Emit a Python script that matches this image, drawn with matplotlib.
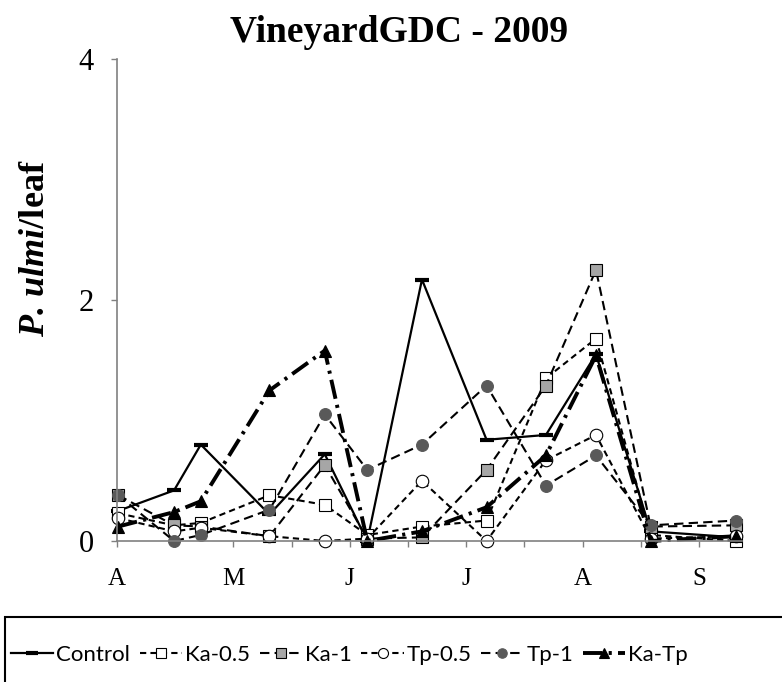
import matplotlib
matplotlib.use('Agg')
import matplotlib.pyplot as plt
from matplotlib.patches import Rectangle

# ---- data (x in half-month units from start of April) ----
sample_pos = [0.02, 0.98, 1.44, 2.62, 3.57, 4.30, 5.24, 6.35, 7.37, 8.23, 9.17, 10.64]
month_ticks = [0, 1, 2, 3, 4, 5, 6, 7, 8, 9, 10]
month_labels = ['A', '', 'M', '', 'J', '', 'J', '', 'A', '', 'S']
y_ticks = [0, 2, 4]

control = [0.25, 0.42, 0.80, 0.22, 0.72, 0.00, 2.17, 0.84, 0.88, 1.55, 0.08, 0.03]
ka_05   = [0.23, 0.13, 0.15, 0.38, 0.30, 0.05, 0.12, 0.17, 1.35, 1.68, 0.05, 0.00]
ka_1    = [0.38, 0.13, 0.12, 0.04, 0.63, 0.02, 0.03, 0.59, 1.29, 2.25, 0.12, 0.13]
tp_05   = [0.19, 0.08, 0.11, 0.04, 0.00, 0.02, 0.50, 0.00, 0.67, 0.88, 0.02, 0.04]
tp_1    = [0.38, 0.00, 0.05, 0.26, 1.05, 0.59, 0.80, 1.29, 0.46, 0.71, 0.13, 0.17]
ka_tp   = [0.12, 0.24, 0.33, 1.25, 1.58, 0.00, 0.08, 0.28, 0.71, 1.54, 0.00, 0.04]

series_names = ['Control', 'Ka-0.5', 'Ka-1', 'Tp-0.5', 'Tp-1', 'Ka-Tp']

W, H = 782, 682
plt.rcParams['mathtext.fontset'] = 'custom'
plt.rcParams['mathtext.bfit'] = 'Liberation Serif:bold:italic'
plt.rcParams['mathtext.rm'] = 'Liberation Serif'
plt.rcParams['mathtext.it'] = 'Liberation Serif:italic'
plt.rcParams['mathtext.bf'] = 'Liberation Serif:bold'

fig = plt.figure(figsize=(W / 100, H / 100), dpi=100)
ax = fig.add_axes([117 / W, 1 - 541 / H, (742 - 117) / W, (541 - 59) / H])

serif = 'Liberation Serif'

styles = [
    dict(data=control, color='black', lw=1.6, ls='-', marker='_', ms=10, mew=3,
         mfc='black', mec='black'),
    dict(data=ka_05, color='black', lw=1.5, ls=(0, (3, 2)), marker='s', ms=9, mew=0.8,
         mfc='white', mec='black'),
    dict(data=ka_1, color='black', lw=1.5, ls=(0, (4.5, 2.5)), marker='s', ms=9, mew=0.8,
         mfc='#a6a6a6', mec='black'),
    dict(data=tp_05, color='black', lw=1.5, ls=(0, (3, 2)), marker='o', ms=9, mew=0.8,
         mfc='white', mec='black'),
    dict(data=tp_1, color='black', lw=1.5, ls=(0, (4.5, 2.5)), marker='o', ms=8.5, mew=0.8,
         mfc='#595959', mec='#595959'),
    dict(data=ka_tp, color='black', lw=2.8, ls=(0, (5, 1.6, 0.8, 1.6)), marker='^', ms=9,
         mew=0.8, mfc='black', mec='black'),
]

handles = []
for name, st in zip(series_names, styles):
    ln, = ax.plot(sample_pos, st['data'], color=st['color'], lw=st['lw'], ls=st['ls'],
                  marker=st['marker'], ms=st['ms'], mew=st['mew'], mfc=st['mfc'],
                  mec=st['mec'], clip_on=False, label=name)
    handles.append(ln)

ax.set_xlim(0, (742 - 117) / 58.2)
ax.set_ylim(0, 4)
ax.set_yticks(y_ticks)
ax.set_yticklabels([str(v) for v in y_ticks], fontfamily=serif, fontsize=22)
ax.set_xticks(month_ticks)
ax.set_xticklabels(month_labels, fontfamily=serif, fontsize=18)
ax.tick_params(axis='y', direction='out', length=4.5, width=1, color='#808080', pad=12)
ax.tick_params(axis='x', direction='out', length=4.5, width=1, color='#808080', pad=15)
for s in ['top', 'right']:
    ax.spines[s].set_visible(False)
for s in ['left', 'bottom']:
    ax.spines[s].set_color('#808080')
    ax.spines[s].set_linewidth(1.2)

# title
fig.text(399 / W, 1 - 33 / H, 'VineyardGDC - 2009', ha='center', va='center',
         fontfamily=serif, fontweight='bold', fontsize=27)

# y-label
fig.text(36 / W, 1 - 248 / H, r'$\mathbfit{P.}\,\mathbfit{ulmi}$/leaf', rotation=90,
         ha='center', va='center', fontfamily=serif, fontweight='bold', fontsize=26)

# legend box
rect = Rectangle((5 / W, -0.2), 1.0, (1 - 617 / H) + 0.2, transform=fig.transFigure,
                 fill=False, edgecolor='black', lw=1.5, clip_on=False)
fig.add_artist(rect)
fig.legend(handles=handles, loc='center left', bbox_to_anchor=(11 / W, 1 - 655 / H),
           ncol=6, frameon=False, prop={'family': 'Lato', 'size': 16},
           borderpad=0, borderaxespad=0,
           handlelength=1.9, handletextpad=0.12, columnspacing=0.45, markerscale=0.8)

fig.savefig('out.png', dpi=100)
